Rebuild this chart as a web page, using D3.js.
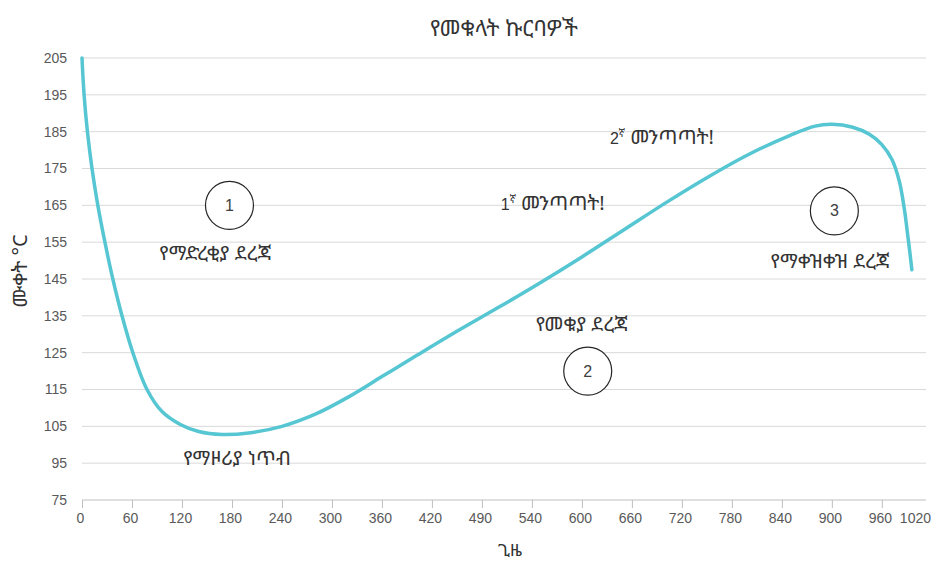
<!DOCTYPE html>
<html>
<head>
<meta charset="utf-8">
<script src="https://cdn.jsdelivr.net/npm/d3@7"></script>
<style>
  body { margin: 0; background: #fff; }
  .tick-label { font-family: "Liberation Sans", Arial, sans-serif; font-size: 14px; fill: #595959; }
  .eth { font-family: "Noto Sans Ethiopic", "Abyssinica SIL", "FreeSerif", "DejaVu Sans", sans-serif; fill: #333; }
</style>
</head>
<body>
<div id="chart"></div>
<script>
(function () {
  var width = 937;
  var height = 575;
  var margin = { top: 58, right: 11, bottom: 75, left: 82 };

  // roast curve: seconds vs temperature
  var times = [0, 2.5, 6.5, 12, 19, 27.5, 37, 48, 61, 78, 96, 118, 140, 168, 200, 240, 280, 320, 360, 400, 450, 500, 550, 600, 650, 700, 750, 800, 850, 880, 900, 925, 945, 960, 972, 981, 987, 991, 994, 996];
  var temps = [205, 195, 185, 175, 165, 155, 145, 135, 125, 115, 109, 105.5, 103.6, 102.8, 103.2, 105, 108.3, 113, 118.5, 124, 130.8, 137.3, 144, 151, 158.3, 165.6, 172.5, 178.8, 184, 186.5, 187, 186.2, 184.3, 181.5, 177.5, 171.5, 164, 157, 151.5, 147.5];

  var yTicks = [85, 95, 105, 115, 125, 135, 145, 155, 165, 175, 185, 195, 205];
  var yTickLabels = ['75', '95', '105', '115', '125', '135', '145', '155', '165', '175', '185', '195', '205'];
  var xTicks = [0, 60, 120, 180, 240, 300, 360, 420, 480, 540, 600, 660, 720, 780, 840, 900, 960];
  var xTickLabels = ['0', '60', '120', '180', '240', '300', '360', '420', '490', '540', '600', '660', '720', '780', '840', '900', '960'];
  var xLastLabel = '1020';

  var circleNums = ['1', '2', '3'];
  var circleTimes = [177, 607, 903];
  var circleTemps = [165, 120, 163.5];

  var noteTexts = ['የማድረቂያ ደረጃ', 'የማዞሪያ ነጥብ', 'የመቁያ ደረጃ', 'የማቀዝቀዝ ደረጃ'];
  var noteTimes = [160, 186, 600, 898];
  var noteTemps = [152, 96.4, 132.8, 149.9];

  var crackNums = ['1', '2'];
  var crackTimes = [565, 696];
  var crackTemps = [165.6, 183.5];

  var svg = d3.select('#chart').append('svg')
    .attr('width', width)
    .attr('height', height);

  var innerW = width - margin.left - margin.right;
  var innerH = height - margin.top - margin.bottom;

  var x = d3.scaleLinear().domain([0, 1013]).range([margin.left, margin.left + innerW]);
  var y = d3.scaleLinear().domain([85, 205]).range([margin.top + innerH, margin.top]);

  // gridlines
  svg.append('g').selectAll('line')
    .data(yTicks.slice(1))
    .enter().append('line')
    .attr('x1', x(0)).attr('x2', x(1013))
    .attr('y1', function (d) { return y(d); })
    .attr('y2', function (d) { return y(d); })
    .attr('stroke', '#d9d9d9')
    .attr('stroke-width', 1);

  // y labels
  svg.append('g').selectAll('text')
    .data(yTicks)
    .enter().append('text')
    .attr('class', 'tick-label')
    .attr('x', x(0) - 15)
    .attr('y', function (d) { return y(d); })
    .attr('dy', '0.35em')
    .attr('text-anchor', 'end')
    .text(function (d, i) { return yTickLabels[i]; });

  // x axis
  var xAxis = svg.append('g')
    .attr('transform', 'translate(0,' + y(85) + ')')
    .call(d3.axisBottom(x).tickValues(xTicks).tickSize(8).tickPadding(5)
      .tickFormat(function (d, i) { return xTickLabels[i]; }));
  xAxis.select('.domain').attr('stroke', '#bfbfbf').attr('d', 'M' + x(0) + ',0H' + x(1013));
  xAxis.selectAll('.tick line').attr('stroke', '#bfbfbf');
  xAxis.selectAll('.tick text').attr('class', 'tick-label').attr('font-family', null).attr('font-size', null).attr('fill', null).attr('dx', '-2');
  xAxis.append('text')
    .attr('class', 'tick-label')
    .attr('x', x(1013) + 5)
    .attr('y', 13)
    .attr('dy', '0.71em')
    .attr('text-anchor', 'end')
    .text(xLastLabel);

  // curve
  var pts = times.map(function (t, i) { return [t, temps[i]]; });
  svg.append('path')
    .datum(pts)
    .attr('fill', 'none')
    .attr('stroke', '#55c6d2')
    .attr('stroke-width', 3.5)
    .attr('stroke-linecap', 'round')
    .attr('d', d3.line()
      .x(function (d) { return x(d[0]); })
      .y(function (d) { return y(d[1]); })
      .curve(d3.curveCatmullRom.alpha(0.5)));

  // stage circles
  var circ = svg.append('g').selectAll('g')
    .data(circleNums)
    .enter().append('g')
    .attr('transform', function (d, i) { return 'translate(' + x(circleTimes[i]) + ',' + y(circleTemps[i]) + ')'; });
  circ.append('circle').attr('r', 24).attr('fill', '#fff').attr('stroke', '#262626').attr('stroke-width', 1.2);
  circ.append('text')
    .attr('class', 'tick-label')
    .attr('dy', '0.35em')
    .attr('text-anchor', 'middle')
    .style('fill', '#404040')
    .style('font-size', '16px')
    .text(function (d) { return d; });

  // stage notes
  svg.append('g').selectAll('text')
    .data(noteTexts)
    .enter().append('text')
    .attr('class', 'eth')
    .attr('x', function (d, i) { return x(noteTimes[i]); })
    .attr('y', function (d, i) { return y(noteTemps[i]); })
    .attr('dy', '0.35em')
    .attr('text-anchor', 'middle')
    .attr('font-size', 20)
    .text(function (d) { return d; });

  // cracks
  var crack = svg.append('g').selectAll('text')
    .data(crackNums)
    .enter().append('text')
    .attr('class', 'eth')
    .attr('x', function (d, i) { return x(crackTimes[i]); })
    .attr('y', function (d, i) { return y(crackTemps[i]); })
    .attr('dy', '0.35em')
    .attr('text-anchor', 'middle')
    .attr('font-size', 20);
  crack.append('tspan').attr('font-family', 'Liberation Sans, Arial, sans-serif').attr('font-size', 16).text(function (d) { return d; });
  crack.append('tspan').attr('dy', -7).attr('font-size', 11).text('ኛ');
  crack.append('tspan').attr('dy', 7).text(' መንጣጣት!');

  // title and axis titles
  svg.append('text')
    .attr('class', 'eth')
    .attr('x', (x(0) + x(1013)) / 2)
    .attr('y', 28)
    .attr('dy', '0.35em')
    .attr('text-anchor', 'middle')
    .attr('font-size', 22)
    .text('የመቁላት ኩርባዎች');

  svg.append('text')
    .attr('class', 'eth')
    .attr('x', (x(0) + x(1013)) / 2 + 6)
    .attr('y', 550)
    .attr('dy', '0.35em')
    .attr('text-anchor', 'middle')
    .attr('font-size', 17)
    .text('ጊዜ');

  svg.append('text')
    .attr('class', 'eth')
    .attr('transform', 'translate(20,' + ((y(85) + y(205)) / 2 - 8) + ') rotate(-90)')
    .attr('dy', '0.35em')
    .attr('text-anchor', 'middle')
    .attr('font-size', 20)
    .text('ሙቀት °C');
})();
</script>
</body>
</html>
